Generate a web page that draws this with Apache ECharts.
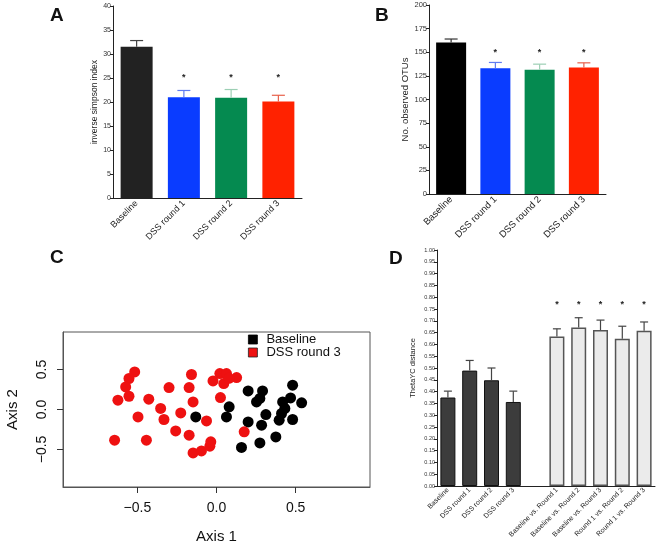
<!DOCTYPE html>
<html>
<head>
<meta charset="utf-8">
<script src="https://cdn.jsdelivr.net/npm/echarts@6.0.0/dist/echarts.min.js"></script>
<style>html,body{margin:0;padding:0;background:#fff}#c{width:660px;height:550px}</style>
</head>
<body>
<div id="c"></div>
<script>
// ---- data ----
const groups = ['Baseline', 'DSS round 1', 'DSS round 2', 'DSS round 3'];
const simpsonMean = [31.5, 21.0, 20.9, 20.1];
const simpsonSem = [1.3, 1.4, 1.7, 1.3];
const simpsonStar = [null, 25.2, 25.2, 25.2];
const otuMean = [160.4, 133.2, 131.4, 133.9];
const otuSem = [3.6, 6.0, 6.0, 4.9];
const otuStar = [null, 150, 150, 150];
const thetaCats = ['Baseline', 'DSS round 1', 'DSS round 2', 'DSS round 3', '',
  'Baseline vs. Round 1', 'Baseline vs. Round 2', 'Baseline vs. Round 3', 'Round 1 vs. Round 2', 'Round 1 vs. Round 3'];
const thetaMean = [0.375, 0.489, 0.448, 0.356, null, 0.633, 0.672, 0.661, 0.624, 0.658];
const thetaSem = [0.027, 0.043, 0.052, 0.046, null, 0.033, 0.041, 0.042, 0.053, 0.037];
const thetaStar = [null, null, null, null, null, 0.77, 0.77, 0.77, 0.77, 0.77];
const abTicks = { simpson: [0, 40, 5], otu: [0, 200, 25], theta: [0, 1, 0.05] };
const pcoaTicks = [-0.5, 0, 0.5];
const baselinePts = [
  [0.200, 0.233], [0.291, 0.233], [0.253, 0.095], [0.274, 0.138], [0.080, 0.033],
  [0.063, -0.093], [0.200, -0.155], [0.312, -0.063], [0.285, -0.196], [0.158, -0.475],
  [0.274, -0.418], [0.375, -0.343], [0.481, 0.304], [0.468, 0.145], [0.418, 0.095],
  [0.538, 0.083], [0.432, 0.013], [0.411, -0.050], [0.396, -0.134], [0.481, -0.125],
  [-0.131, -0.093]
];
const dssPts = [
  [-0.517, 0.470], [-0.553, 0.388], [-0.574, 0.283], [-0.553, 0.166], [-0.623, 0.116],
  [-0.428, 0.129], [-0.300, 0.275], [-0.173, 0.275], [-0.158, 0.438], [-0.148, 0.095],
  [-0.353, 0.013], [-0.332, -0.125], [-0.226, -0.043], [-0.496, -0.093], [-0.258, -0.268],
  [-0.173, -0.321], [-0.644, -0.384], [-0.443, -0.384], [-0.148, -0.543], [-0.095, -0.518],
  [-0.042, -0.459], [-0.036, -0.405], [-0.063, -0.143], [-0.022, 0.358], [0.025, 0.150],
  [0.021, 0.450], [0.063, 0.450], [0.046, 0.325], [0.127, 0.400], [0.175, -0.280],
  [0.078, 0.390]
];

// ---- styles ----
const FONT = 'Liberation Sans, Arial, sans-serif';
const barColorsA = ['#222222', '#0a3cff', '#058a50', '#ff2200'];
const barColorsB = ['#000000', '#0a3cff', '#058a50', '#ff2200'];
const errColorsA = ['#444444', '#5f7cf2', '#9ccfb4', '#e8604a'];
const errColorsB = ['#333333', '#5f7cf2', '#9ccfb4', '#e8604a'];

function errSeries(gi, means, sems, colors, capHalf) {
  const data = [];
  means.forEach((m, i) => { if (m != null) data.push([i, m + sems[i], m]); });
  return {
    type: 'custom', xAxisIndex: gi, yAxisIndex: gi, z: 5, silent: true,
    data: data,
    renderItem: function (params, api) {
      const idx = api.value(0);
      const p1 = api.coord([idx, api.value(2)]);
      const p2 = api.coord([idx, api.value(1)]);
      const c = Array.isArray(colors) ? colors[idx] : colors;
      return {
        type: 'group', children: [
          { type: 'line', shape: { x1: p1[0], y1: p1[1], x2: p2[0], y2: p2[1] }, style: { stroke: c, lineWidth: 1.2 } },
          { type: 'line', shape: { x1: p2[0] - capHalf, y1: p2[1], x2: p2[0] + capHalf, y2: p2[1] }, style: { stroke: c, lineWidth: 1.2 } }
        ]
      };
    }
  };
}
function starSeries(gi, stars, size) {
  const data = [];
  stars.forEach((s, i) => { if (s != null) data.push([i, s]); });
  return {
    type: 'custom', xAxisIndex: gi, yAxisIndex: gi, z: 6, silent: true,
    data: data,
    renderItem: function (params, api) {
      const p = api.coord([api.value(0), api.value(1)]);
      return { type: 'text', x: p[0], y: p[1], style: { text: '*', fill: '#222', font: 'bold ' + size + 'px ' + FONT, align: 'center', verticalAlign: 'middle' } };
    }
  };
}
function catAxis(gi, cats, fs, margin) {
  return {
    type: 'category', gridIndex: gi, data: cats,
    axisLine: { show: true, lineStyle: { color: '#222', width: 1 } },
    axisTick: { show: false },
    axisLabel: { interval: 0, rotate: 45, fontSize: fs, color: '#222', fontFamily: FONT, margin: margin }
  };
}
function valAxis(gi, t, name, fs, nfs, gap, dec) {
  return {
    type: 'value', gridIndex: gi, min: t[0], max: t[1], interval: t[2],
    name: name, nameLocation: 'middle', nameGap: gap,
    nameTextStyle: { fontSize: nfs, color: '#222', fontFamily: FONT },
    axisLine: { show: true, lineStyle: { color: '#222', width: 1 } },
    axisTick: { show: true, length: 3, lineStyle: { color: '#222' } },
    splitLine: { show: false },
    axisLabel: { fontSize: fs, color: '#333', fontFamily: FONT, margin: 2, formatter: v => dec ? v.toFixed(dec) : String(v) }
  };
}

const fmtMinus = v => (v < 0 ? '\u2212' : '') + Math.abs(v).toFixed(1);

const option = {
  animation: false,
  backgroundColor: '#fff',
  textStyle: { fontFamily: FONT },
  grid: [
    { left: 113, top: 6, width: 189, height: 192, outerBoundsMode: 'none' },
    { left: 429, top: 5, width: 177, height: 189, outerBoundsMode: 'none' },
    { left: 63, top: 332, width: 307, height: 155, show: true, borderColor: '#555', borderWidth: 1, backgroundColor: 'transparent', outerBoundsMode: 'none' },
    { left: 437, top: 250, width: 218, height: 236, outerBoundsMode: 'none' }
  ],
  xAxis: [
    catAxis(0, groups, 9, 4),
    catAxis(1, groups, 9.5, 4),
    {
      type: 'value', gridIndex: 2, min: -0.97, max: 0.97, position: 'bottom',
      name: 'Axis 1', nameLocation: 'middle', nameGap: 42,
      nameTextStyle: { fontSize: 15, color: '#111', fontFamily: FONT },
      axisLine: { show: true, onZero: false, lineStyle: { color: '#555', width: 1 } }, splitLine: { show: false },
      axisTick: { show: true, inside: false, customValues: pcoaTicks, length: 6, lineStyle: { color: '#333', width: 1 } },
      axisLabel: { customValues: pcoaTicks, formatter: fmtMinus, fontSize: 14, color: '#111', fontFamily: FONT, margin: 14 }
    },
    catAxis(3, thetaCats, 7, 3)
  ],
  yAxis: [
    valAxis(0, abTicks.simpson, 'inverse simpson index', 7, 8.5, 11, 0),
    valAxis(1, abTicks.otu, 'No. observed OTUs', 7.5, 9.5, 14, 0),
    {
      type: 'value', gridIndex: 2, min: -0.97, max: 0.97, position: 'left',
      name: 'Axis 2', nameLocation: 'middle', nameGap: 43,
      nameTextStyle: { fontSize: 15, color: '#111', fontFamily: FONT },
      axisLine: { show: true, onZero: false, lineStyle: { color: '#555', width: 1 } }, splitLine: { show: false },
      axisTick: { show: true, inside: false, customValues: pcoaTicks, length: 6, lineStyle: { color: '#333', width: 1 } },
      axisLabel: { customValues: pcoaTicks, formatter: fmtMinus, rotate: 90, fontSize: 14, color: '#111', fontFamily: FONT, margin: 14 }
    },
    valAxis(3, abTicks.theta, 'ThetaYC distance', 5.5, 7.5, 20, 2)
  ],
  legend: {
    data: [
      { name: 'Baseline', icon: 'rect', itemStyle: { color: '#000', borderColor: '#000', borderWidth: 0.8 } },
      { name: 'DSS round 3', icon: 'rect', itemStyle: { color: '#ee1111', borderColor: '#222', borderWidth: 0.8 } }
    ],
    orient: 'vertical', left: 248, top: 333, itemWidth: 9, itemHeight: 9, itemGap: 0,
    textStyle: { fontSize: 13, color: '#111', fontFamily: FONT, lineHeight: 12, padding: [0, 0, 0, 4] },
    selectedMode: false, padding: 0
  },
  graphic: [
    { type: 'text', left: 50, top: 6, style: { text: 'A', font: 'bold 19px ' + FONT, fill: '#111' } },
    { type: 'text', left: 375, top: 6, style: { text: 'B', font: 'bold 19px ' + FONT, fill: '#111' } },
    { type: 'text', left: 50, top: 248, style: { text: 'C', font: 'bold 19px ' + FONT, fill: '#111' } },
    { type: 'text', left: 389, top: 249, style: { text: 'D', font: 'bold 19px ' + FONT, fill: '#111' } }
  ],
  series: [
    {
      name: 'simpson', type: 'bar', xAxisIndex: 0, yAxisIndex: 0, barWidth: 32,
      data: simpsonMean.map((v, i) => ({ value: v, itemStyle: { color: barColorsA[i] } }))
    },
    errSeries(0, simpsonMean, simpsonSem, errColorsA, 6.5),
    starSeries(0, simpsonStar, 9),
    {
      name: 'otu', type: 'bar', xAxisIndex: 1, yAxisIndex: 1, barWidth: 30,
      data: otuMean.map((v, i) => ({ value: v, itemStyle: { color: barColorsB[i] } }))
    },
    errSeries(1, otuMean, otuSem, errColorsB, 6.5),
    starSeries(1, otuStar, 9),
    {
      name: 'Baseline', type: 'scatter', xAxisIndex: 2, yAxisIndex: 2, symbolSize: 11,
      itemStyle: { color: '#000', opacity: 1 }, data: baselinePts
    },
    {
      name: 'DSS round 3', type: 'scatter', xAxisIndex: 2, yAxisIndex: 2, symbolSize: 11,
      itemStyle: { color: '#ee1111', opacity: 1 }, data: dssPts
    },
    {
      name: 'theta', type: 'bar', xAxisIndex: 3, yAxisIndex: 3, barWidth: 15,
      data: thetaMean.map((v, i) => ({
        value: v,
        itemStyle: i < 4 ? { color: '#3c3c3c', borderColor: '#111', borderWidth: 1 }
                         : { color: '#ebebeb', borderColor: '#555', borderWidth: 1.5 }
      }))
    },
    errSeries(3, thetaMean, thetaSem, '#444', 4),
    starSeries(3, thetaStar, 9)
  ]
};
const chart = echarts.init(document.getElementById('c'), null, { renderer: 'canvas' });
chart.setOption(option);
</script>
</body>
</html>
